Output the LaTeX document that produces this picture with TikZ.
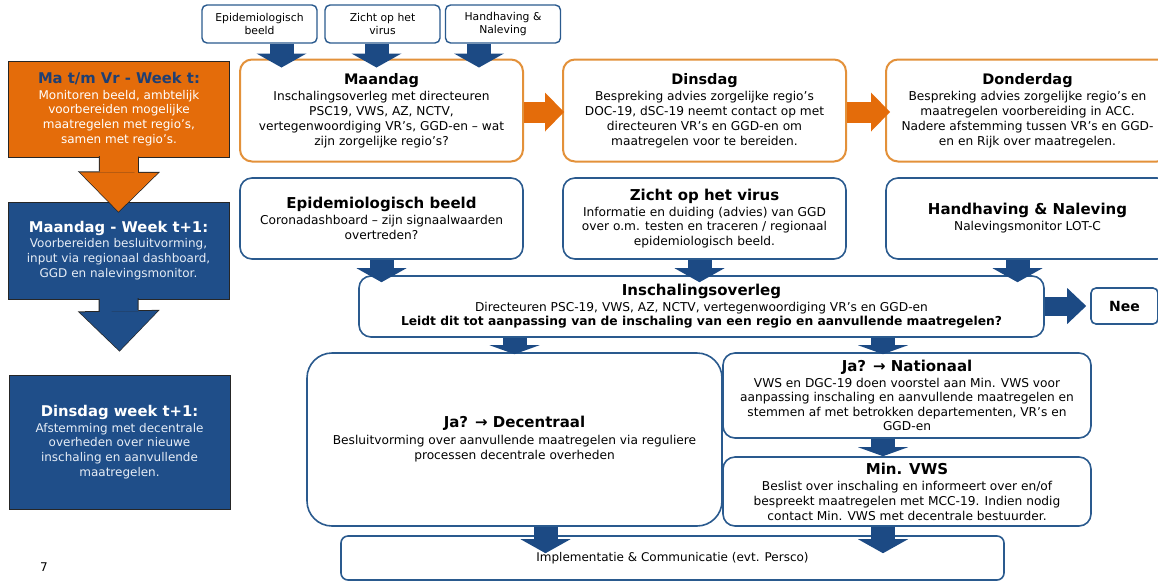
\documentclass[tikz,border=0pt]{standalone}
\usepackage{fontspec}
\setmainfont{DejaVu Sans}
\usetikzlibrary{arrows.meta}

\definecolor{oranje}{HTML}{E46C0A}
\definecolor{oranjerand}{HTML}{E3913A}
\definecolor{donkerblauw}{HTML}{1F4E89}
\definecolor{pijlblauw}{HTML}{1C4A84}
\definecolor{randblauw}{HTML}{2A5A8E}
\definecolor{titelblauw}{HTML}{1F3F73}
\definecolor{lichtblauw}{HTML}{E6EDF6}

\newcommand\kop{\fontsize{14.5}{15}\selectfont\bfseries}
\newcommand\kopgroot{\fontsize{15}{15}\selectfont\bfseries}

\tikzset{
  week/.style={draw=black!85, line width=0.8pt, minimum width=221pt, align=center, inner sep=0pt,
    font=\fontsize{12}{14.8}\selectfont},
  bron/.style={draw=randblauw, line width=1.4pt, rounded corners=5pt, fill=white, minimum width=115pt,
    minimum height=38pt, align=center, inner sep=0pt, font=\fontsize{10.8}{13}\selectfont},
  dag/.style={draw=oranjerand, line width=2pt, rounded corners=12pt, fill=white, minimum width=283pt,
    minimum height=102pt, align=center, inner sep=0pt, font=\fontsize{12.2}{15}\selectfont},
  info/.style={draw=randblauw, line width=1.6pt, rounded corners=12pt, fill=white, align=center,
    inner sep=0pt, font=\fontsize{12.2}{15}\selectfont},
  pijl/.style={draw=pijlblauw, line width=24pt, -{Triangle[length=14pt, width=50pt, line width=0pt]}},
  pijlkort/.style={pijl, -{Triangle[length=9pt, width=50pt, line width=0pt]}},
  pijlhor/.style={draw=oranje, line width=21pt, -{Triangle[length=19pt, width=39pt, line width=0pt]}},
  pijlgroot/.style={line width=38pt, -{Triangle[length=39pt, width=78pt, line width=0pt]}},
  omlijn/.style={draw=black!85, line width=40pt, -{Triangle[length=41pt, width=82pt, line width=0pt]}}
}

\begin{document}
\begin{tikzpicture}[x=1pt,y=-1pt]
\useasboundingbox (0,0) rectangle (1158,582);

% linker kolom
\node[week, fill=oranje, text=white, minimum height=96pt] (weekt) at (119,109)
  {{\fontsize{14.8}{15}\selectfont\bfseries\color{titelblauw}Ma t/m Vr - Week t:}\\[1pt]
   Monitoren beeld, ambtelijk\\ voorbereiden mogelijke\\ maatregelen met regio’s,\\ samen met regio’s.};
\node[week, fill=donkerblauw, text=lichtblauw, minimum height=97pt] (weekma) at (118.5,250.5)
  {{\fontsize{14.8}{15}\selectfont\bfseries\color{white}Maandag - Week t+1:}\\[1pt]
   Voorbereiden besluitvorming,\\ input via regionaal dashboard,\\ GGD en nalevingsmonitor.};
\node[week, fill=donkerblauw, text=lichtblauw, minimum height=134pt] (weekdi) at (119.5,442)
  {{\fontsize{14.8}{15}\selectfont\bfseries\color{white}Dinsdag week t+1:}\\[1pt]
   Afstemming met decentrale\\ overheden over nieuwe\\ inschaling en aanvullende\\ maatregelen.};
\node[font=\fontsize{12}{14}\selectfont] (pagina) at (44,567) {7};

% bronnen
\node[bron] (bronepi) at (259.5,24) {Epidemiologisch\\ beeld};
\node[bron] (bronzicht) at (382.5,24) {Zicht op het\\ virus};
\node[bron] (bronhand) at (503,24) {Handhaving \&\\ Naleving};

% dagen
\node[dag] (maandag) at (381.5,110.5) {{\kop Maandag}\\[1pt]
  Inschalingsoverleg met directeuren\\ PSC19, VWS, AZ, NCTV,\\
  vertegenwoordiging VR’s, GGD-en – wat\\ zijn zorgelijke regio’s?};
\node[dag] (dinsdag) at (704.5,110.5) {{\kop Dinsdag}\\[1pt]
  Bespreking advies zorgelijke regio’s\\ DOC-19, dSC-19 neemt contact op met\\
  directeuren VR’s en GGD-en om\\ maatregelen voor te bereiden.};
\node[dag] (donderdag) at (1027.5,110.5) {{\kop Donderdag}\\[1pt]
  Bespreking advies zorgelijke regio’s en\\ maatregelen voorbereiding in ACC.\\
  Nadere afstemming tussen VR’s en GGD-\\ en en Rijk over maatregelen.};

% input
\node[info, minimum width=283pt, minimum height=81pt] (epibeeld) at (381.5,218.5)
  {{\kopgroot Epidemiologisch beeld}\\[1.5pt] Coronadashboard – zijn signaalwaarden\\ overtreden?};
\node[info, minimum width=283pt, minimum height=81pt, font=\fontsize{12.2}{14.5}\selectfont] (zicht) at (704.5,218.5)
  {{\kopgroot Zicht op het virus}\\[1.5pt] Informatie en duiding (advies) van GGD\\
   over o.m. testen en traceren / regionaal\\ epidemiologisch beeld.};
\node[info, minimum width=283pt, minimum height=81pt] (handhaving) at (1027.5,218.5)
  {{\kopgroot Handhaving \& Naleving}\\[1pt] Nalevingsmonitor LOT-C};

% overleg en besluit
\node[info, minimum width=685pt, minimum height=61pt, font=\fontsize{12.2}{14}\selectfont] (insch) at (701.5,306.5)
  {{\kopgroot Inschalingsoverleg}\\[2pt]
   Directeuren PSC-19, VWS, AZ, NCTV, vertegenwoordiging VR’s en GGD-en\\
   {\fontsize{12.3}{14}\selectfont\bfseries Leidt dit tot aanpassing van de inschaling van een regio en aanvullende maatregelen?}};
\node[info, rounded corners=5pt, minimum width=67pt, minimum height=36pt] (nee) at (1124.5,306)
  {\fontsize{14}{15}\selectfont\bfseries Nee};
\node[info, rounded corners=25pt, minimum width=415pt, minimum height=173pt] (decentraal) at (514.5,439.5)
  {{\kopgroot Ja? → Decentraal}\\[2pt] Besluitvorming over aanvullende maatregelen via reguliere\\
   processen decentrale overheden};
\node[info, minimum width=368pt, minimum height=85pt, font=\fontsize{12.2}{14.3}\selectfont] (nationaal) at (907,395.5)
  {{\kopgroot Ja? → Nationaal}\\[1.5pt] VWS en DGC-19 doen voorstel aan Min. VWS voor\\
   aanpassing inschaling en aanvullende maatregelen en\\ stemmen af met betrokken departementen, VR’s en\\ GGD-en};
\node[info, minimum width=368pt, minimum height=69pt] (minvws) at (907,491.5)
  {{\kopgroot Min. VWS}\\[1pt] Beslist over inschaling en informeert over en/of\\
   bespreekt maatregelen met MCC-19. Indien nodig\\ contact Min. VWS met decentrale bestuurder.};
\node[info, rounded corners=7pt, minimum width=663pt, minimum height=44pt, font=\fontsize{12}{14}\selectfont] (impl) at (672.5,558)
  {Implementatie \& Communicatie (evt. Persco)};

% pijlen
\draw[omlijn] ([yshift=1pt]weekt.south) -- ([yshift=-11pt]weekma.north);
\draw[pijlgroot, draw=oranje] ([yshift=2pt]weekt.south) -- ([yshift=-10pt]weekma.north);
\draw[omlijn] ([yshift=1pt]weekma.south) -- ([yshift=23pt]weekdi.north);
\draw[pijlgroot, draw=donkerblauw] ([yshift=2pt]weekma.south) -- ([yshift=24pt]weekdi.north);

\draw[pijl] ([xshift=22pt]bronepi.south) -- ([xshift=22pt,yshift=-9pt]bronepi.south |- maandag.north);
\draw[pijl] ([xshift=-6pt]bronzicht.south) -- ([xshift=-6pt,yshift=-9pt]bronzicht.south |- maandag.north);
\draw[pijl] ([xshift=-24pt]bronhand.south) -- ([xshift=-24pt,yshift=-9pt]bronhand.south |- maandag.north);

\draw[pijlhor] ([yshift=-1.5pt]maandag.east) -- ([xshift=2pt,yshift=-1.5pt]dinsdag.west);
\draw[pijlhor] ([yshift=-1.5pt]dinsdag.east) -- ([xshift=5pt,yshift=-1.5pt]donderdag.west);

\draw[pijl] (epibeeld.south) -- ([yshift=-7pt]epibeeld.south |- insch.north);
\draw[pijl] ([xshift=-5pt]zicht.south) -- ([xshift=-5pt,yshift=-7pt]zicht.south |- insch.north);
\draw[pijl] ([xshift=-10pt]handhaving.south) -- ([xshift=-10pt,yshift=-7pt]handhaving.south |- insch.north);

\draw[pijl, line width=19pt, -{Triangle[length=19pt, width=36pt, line width=0pt]}]
  (insch.east |- nee.west) -- ([xshift=-4pt]nee.west);

\draw[pijlkort] (insch.south -| decentraal.north) -- ([yshift=-2pt]decentraal.north);
\draw[pijlkort] ([xshift=-24pt]insch.south -| nationaal.north) -- ([xshift=-24pt,yshift=-2pt]nationaal.north);
\draw[pijlkort] ([xshift=-24pt]nationaal.south) -- ([xshift=-24pt]minvws.north);

\draw[pijl] ([xshift=31pt]decentraal.south) -- ([xshift=31pt,yshift=-18pt]decentraal.south |- impl.north);
\draw[pijl] ([xshift=-24pt]minvws.south) -- ([xshift=-24pt,yshift=-18pt]minvws.south |- impl.north);
\end{tikzpicture}
\end{document}
